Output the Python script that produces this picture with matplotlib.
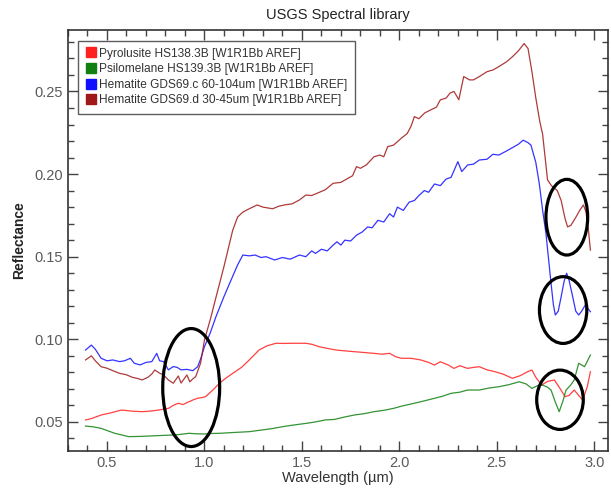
import matplotlib
matplotlib.use("Agg")
import matplotlib.pyplot as plt
from matplotlib.patches import Ellipse
from matplotlib.ticker import MultipleLocator, FormatStrFormatter
from matplotlib.lines import Line2D

plt.rcParams['font.family'] = ['Liberation Sans', 'DejaVu Sans']

title = "USGS Spectral library"
xlabel = "Wavelength (\u00b5m)"
ylabel = "Reflectance"
labels = ["Pyrolusite HS138.3B [W1R1Bb AREF]",
          "Psilomelane HS139.3B [W1R1Bb AREF]",
          "Hematite GDS69.c 60-104um [W1R1Bb AREF]",
          "Hematite GDS69.d 30-45um [W1R1Bb AREF]"]
colors = ["#ff2020", "#108010", "#1010ff", "#a01818"]

red = [(0.39,0.0512),(0.42,0.052),(0.47,0.0542),(0.52,0.0555),(0.575,0.0572),(0.63,0.0565),(0.68,0.0562),(0.72,0.0565),(0.765,0.0572),(0.815,0.0582),(0.84,0.060),(0.866,0.0613),(0.89,0.0605),(0.92,0.0622),(0.945,0.0635),(0.965,0.0643),(0.99,0.0648),(1.006,0.0653),(1.043,0.0693),(1.077,0.0734),(1.11,0.0765),(1.145,0.0794),(1.19,0.083),(1.23,0.0875),(1.28,0.0935),(1.32,0.096),(1.367,0.0976),(1.41,0.0975),(1.45,0.0976),(1.52,0.0976),(1.55,0.097),(1.59,0.0955),(1.63,0.0945),(1.676,0.0935),(1.72,0.093),(1.77,0.0925),(1.82,0.092),(1.87,0.0915),(1.91,0.091),(1.95,0.0915),(1.98,0.0895),(2.01,0.0885),(2.06,0.0885),(2.11,0.0875),(2.15,0.086),(2.18,0.0844),(2.21,0.0864),(2.25,0.0845),(2.28,0.0824),(2.31,0.084),(2.35,0.0824),(2.38,0.083),(2.41,0.0834),(2.45,0.0815),(2.49,0.0804),(2.53,0.079),(2.58,0.0764),(2.62,0.078),(2.66,0.0805),(2.68,0.0814),(2.70,0.077),(2.73,0.0723),(2.76,0.0745),(2.795,0.0754),(2.82,0.071),(2.85,0.0653),(2.87,0.066),(2.897,0.0693),(2.92,0.066),(2.94,0.0633),(2.964,0.0713),(2.98,0.0804)]

green = [(0.39,0.0475),(0.43,0.047),(0.47,0.0461),(0.50,0.0448),(0.54,0.0431),(0.58,0.042),(0.61,0.0411),(0.66,0.0412),(0.725,0.0415),(0.78,0.0418),(0.845,0.0421),(0.88,0.0425),(0.92,0.0431),(0.96,0.0428),(1.0,0.0427),(1.04,0.043),(1.077,0.0431),(1.15,0.0436),(1.23,0.0441),(1.30,0.0452),(1.35,0.046),(1.40,0.0471),(1.45,0.048),(1.52,0.0491),(1.57,0.050),(1.62,0.0512),(1.667,0.0515),(1.72,0.053),(1.77,0.0542),(1.82,0.055),(1.87,0.0562),(1.92,0.057),(1.97,0.0582),(2.02,0.0598),(2.077,0.0613),(2.13,0.0628),(2.18,0.0643),(2.22,0.0655),(2.265,0.0673),(2.31,0.068),(2.35,0.0693),(2.41,0.0693),(2.46,0.0705),(2.51,0.0713),(2.56,0.0725),(2.615,0.0743),(2.65,0.073),(2.68,0.0703),(2.71,0.072),(2.735,0.0723),(2.76,0.071),(2.778,0.0693),(2.80,0.062),(2.82,0.0562),(2.84,0.063),(2.855,0.0693),(2.877,0.072),(2.897,0.0754),(2.92,0.0855),(2.95,0.0834),(2.98,0.0905)]

blue = [(0.39,0.0935),(0.42,0.0965),(0.44,0.094),(0.47,0.0885),(0.50,0.087),(0.53,0.0875),(0.565,0.0865),(0.59,0.087),(0.62,0.0885),(0.64,0.0855),(0.67,0.0845),(0.70,0.086),(0.73,0.0865),(0.755,0.0915),(0.77,0.087),(0.79,0.0865),(0.815,0.0815),(0.84,0.0835),(0.86,0.083),(0.88,0.0815),(0.91,0.0818),(0.94,0.081),(0.965,0.0834),(0.98,0.088),(1.0,0.0955),(1.03,0.104),(1.06,0.114),(1.10,0.1258),(1.137,0.136),(1.17,0.145),(1.197,0.151),(1.23,0.1505),(1.26,0.151),(1.29,0.1495),(1.316,0.150),(1.36,0.148),(1.40,0.1495),(1.44,0.1485),(1.487,0.151),(1.52,0.150),(1.55,0.1535),(1.57,0.152),(1.60,0.1545),(1.63,0.1535),(1.66,0.157),(1.68,0.159),(1.70,0.157),(1.72,0.160),(1.75,0.1595),(1.78,0.163),(1.81,0.165),(1.837,0.168),(1.86,0.1675),(1.89,0.172),(1.92,0.171),(1.95,0.176),(1.97,0.174),(1.99,0.180),(2.02,0.178),(2.05,0.183),(2.077,0.184),(2.10,0.187),(2.128,0.190),(2.15,0.189),(2.18,0.194),(2.21,0.193),(2.24,0.197),(2.265,0.198),(2.28,0.202),(2.30,0.2075),(2.32,0.2015),(2.35,0.2055),(2.38,0.206),(2.41,0.2085),(2.45,0.209),(2.48,0.212),(2.51,0.2115),(2.55,0.214),(2.58,0.216),(2.61,0.218),(2.635,0.2205),(2.66,0.219),(2.675,0.2175),(2.70,0.207),(2.718,0.194),(2.735,0.178),(2.752,0.164),(2.765,0.149),(2.778,0.134),(2.79,0.121),(2.80,0.1147),(2.815,0.117),(2.83,0.1258),(2.845,0.135),(2.858,0.140),(2.87,0.136),(2.889,0.1258),(2.905,0.117),(2.92,0.1147),(2.935,0.117),(2.954,0.1208),(2.965,0.119),(2.98,0.1167)]

brown = [(0.39,0.0875),(0.42,0.090),(0.44,0.087),(0.47,0.0834),(0.50,0.0825),(0.53,0.081),(0.565,0.0794),(0.60,0.0785),(0.63,0.077),(0.66,0.0762),(0.68,0.0754),(0.71,0.077),(0.73,0.079),(0.745,0.0814),(0.77,0.0795),(0.79,0.0784),(0.815,0.0754),(0.84,0.0734),(0.866,0.0778),(0.88,0.0735),(0.91,0.0784),(0.925,0.0743),(0.94,0.076),(0.955,0.0774),(0.98,0.0855),(1.0,0.0996),(1.03,0.112),(1.06,0.1258),(1.10,0.144),(1.145,0.166),(1.17,0.174),(1.197,0.177),(1.23,0.179),(1.27,0.1813),(1.30,0.180),(1.35,0.179),(1.38,0.1805),(1.41,0.1813),(1.45,0.182),(1.487,0.1843),(1.52,0.1873),(1.55,0.187),(1.59,0.189),(1.62,0.1905),(1.66,0.1944),(1.70,0.195),(1.73,0.197),(1.76,0.199),(1.78,0.2045),(1.80,0.2035),(1.83,0.2055),(1.87,0.2105),(1.90,0.2115),(1.92,0.2105),(1.94,0.2166),(1.97,0.2175),(2.01,0.2217),(2.04,0.2245),(2.06,0.229),(2.077,0.2348),(2.10,0.2335),(2.13,0.237),(2.16,0.2388),(2.19,0.2405),(2.21,0.2449),(2.24,0.246),(2.26,0.249),(2.28,0.250),(2.305,0.245),(2.33,0.259),(2.36,0.257),(2.38,0.257),(2.41,0.259),(2.45,0.262),(2.48,0.263),(2.51,0.265),(2.55,0.268),(2.58,0.271),(2.61,0.2745),(2.64,0.279),(2.66,0.276),(2.68,0.262),(2.70,0.246),(2.72,0.232),(2.735,0.224),(2.76,0.1965),(2.78,0.193),(2.81,0.190),(2.83,0.184),(2.85,0.173),(2.863,0.168),(2.88,0.169),(2.906,0.174),(2.925,0.178),(2.944,0.1813),(2.957,0.1773),(2.97,0.166),(2.98,0.154)]

series = [red, green, blue, brown]

# annotation ellipses: (center x, center y, width, height)
ellipses = [(0.932, 0.0708, 0.292, 0.0714),
            (2.859, 0.1739, 0.214, 0.0458),
            (2.840, 0.1177, 0.243, 0.0404),
            (2.824, 0.0634, 0.239, 0.0359)]

fig = plt.figure(figsize=(6.11, 4.90), dpi=100)
ax = fig.add_axes([0.1113, 0.0796, 0.8837, 0.8592])

for pts, c in zip(series, colors):
    xs = [p[0] for p in pts]
    ys = [p[1] for p in pts]
    ax.plot(xs, ys, color=c, lw=0.9, alpha=0.85)

for cx, cy, w, h in ellipses:
    ax.add_patch(Ellipse((cx, cy), w, h, fill=False, edgecolor="black", lw=2.3, zorder=5))

ax.set_xlim(0.3, 3.07)
ax.set_ylim(0.0324, 0.2872)
ax.xaxis.set_major_locator(MultipleLocator(0.5))
ax.xaxis.set_minor_locator(MultipleLocator(0.1))
ax.yaxis.set_major_locator(MultipleLocator(0.05))
ax.yaxis.set_minor_locator(MultipleLocator(0.01))
ax.xaxis.set_major_formatter(FormatStrFormatter("%.1f"))
ax.yaxis.set_major_formatter(FormatStrFormatter("%.2f"))
ax.tick_params(which="both", direction="in", top=True, right=True, color="#444444",
               labelsize=10.5, labelcolor="#5a5a5a")
ax.tick_params(which="major", length=7, width=1)
ax.tick_params(which="minor", length=4, width=1)
for s in ax.spines.values():
    s.set_color("#333333")
    s.set_linewidth(1.2)

ax.set_xlabel(xlabel, fontsize=10.5, color="#333333", labelpad=1)
ax.set_ylabel(ylabel, fontsize=10, color="#222222", fontweight="bold", labelpad=6)
ax.set_title(title, fontsize=10.5, color="#222222", pad=8)

handles = [Line2D([], [], marker="s", ls="none", color=c, markersize=6.5) for c in colors]
leg = ax.legend(handles, labels, loc="upper left", bbox_to_anchor=(0.018, 0.975),
                fontsize=8.6, frameon=True, fancybox=False, handletextpad=0.2,
                handlelength=1.0, borderpad=0.6, labelspacing=0.3, borderaxespad=0)
leg.get_frame().set_edgecolor("#333333")
leg.get_frame().set_linewidth(1.0)
for t in leg.get_texts():
    t.set_color("#333333")

fig.savefig("out.png", dpi=100)
